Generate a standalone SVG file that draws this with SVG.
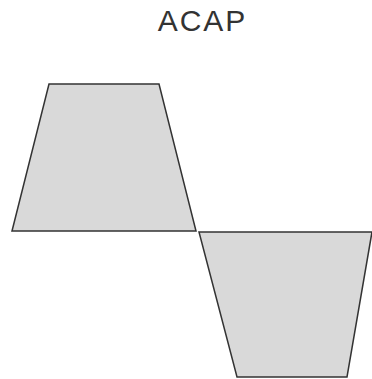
<svg xmlns="http://www.w3.org/2000/svg" width="372" height="379" viewBox="0 0 372 379">
<style>
.shape{fill:#d9d9d9;stroke:#333;stroke-width:1.5;stroke-linejoin:miter}
.title{font-family:"Liberation Sans",Arial,sans-serif;font-size:30px;letter-spacing:2px;fill:#333;text-anchor:middle}
</style>
<rect width="372" height="379" fill="#fff"/>
<g id="title"><text class="title" x="202.5" y="31">ACAP</text></g>
<g id="upper"><polygon class="shape" points="49,84 159,84 196,231 12,231"/></g>
<g id="lower"><polygon class="shape" points="199,232 372,232 347,377 237,377"/></g>
</svg>
